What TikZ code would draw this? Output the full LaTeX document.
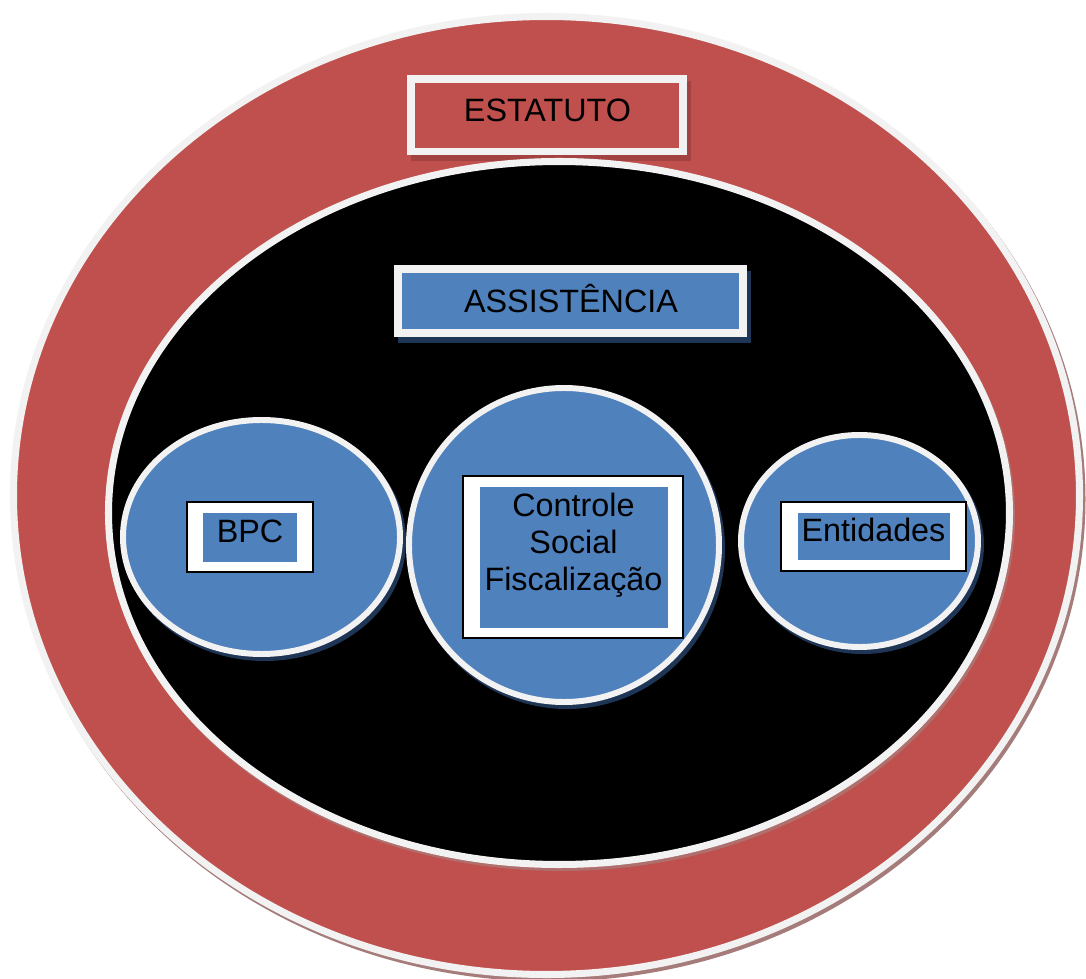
\documentclass[tikz,border=0pt]{standalone}
\usepackage{fontspec}
\setmainfont{Liberation Sans}
\definecolor{ringred}{HTML}{C0504D}
\definecolor{cellblue}{HTML}{4F81BD}
\definecolor{rimgray}{HTML}{F2F2F2}
\definecolor{ringshadow}{HTML}{A67C7B}
\definecolor{redshadow}{HTML}{8F3B39}
\definecolor{navyshadow}{HTML}{1F3556}
\tikzset{
  rim/.style={draw=rimgray, line width=4pt},
  cellrim/.style={draw=rimgray, line width=3.4pt, fill=cellblue},
  headbox/.style={draw=rimgray, line width=4.4pt},
  frame/.style={draw=black, fill=white, line width=0.9pt},
  tag/.style={font=\fontsize{18.4}{21.2}\selectfont, inner sep=0pt, align=center}
}
\begin{document}
\begin{tikzpicture}[x=0.02cm, y=-0.02cm]
  \useasboundingbox[fill=white] (0,0) rectangle (1086,979);
  \fill[ringshadow] (549,499) ellipse [x radius=536.5, y radius=482.5];
  \filldraw[rim, fill=ringred] (546.5,495.5) ellipse [x radius=533, y radius=479];
  \fill[redshadow!60!ringred] (411,81) rectangle (691,161);
  \filldraw[headbox, fill=ringred] (410.8,78.8) rectangle (683.2,151.5);
  \node[tag, anchor=base] (estatuto) at (547.5,122) {ESTATUTO};
  \fill[ringshadow!70!ringred] (561,516) ellipse [x radius=454, y radius=355];
  \filldraw[rim, fill=black] (559,513) ellipse [x radius=450.5, y radius=351.5];
  \fill[navyshadow] (398,271) rectangle (751,343);
  \filldraw[headbox, fill=cellblue] (398.2,269) rectangle (743,333);
  \node[tag, anchor=base] (assist) at (571,313) {ASSISTÊNCIA};
  \fill[navyshadow] (264.5,541) ellipse [x radius=141.5, y radius=120];
  \fill[navyshadow] (567,549) ellipse [x radius=158, y radius=160];
  \fill[navyshadow] (862.5,545) ellipse [x radius=121.5, y radius=109];
  \draw[cellrim] (261.5,537) ellipse [x radius=138.5, y radius=117];
  \draw[cellrim] (564,545) ellipse [x radius=155, y radius=157];
  \draw[cellrim] (859.5,541) ellipse [x radius=118.5, y radius=106];
  \draw[frame] (187,502) rectangle (313,572);
  \fill[cellblue] (203,513) rectangle (297,562);
  \node[tag, anchor=base] (bpc) at (250,543) {BPC};
  \draw[frame] (463,476) rectangle (683,638);
  \fill[cellblue] (480,487) rectangle (668,628);
  \node[tag] (controle) at (573.5,545) {Controle\\Social\\Fiscalização};
  \draw[frame] (781,502) rectangle (966,571);
  \fill[cellblue] (798,513) rectangle (950,560);
  \node[tag, anchor=base] (entidades) at (873.5,542) {Entidades};
\end{tikzpicture}
\end{document}
